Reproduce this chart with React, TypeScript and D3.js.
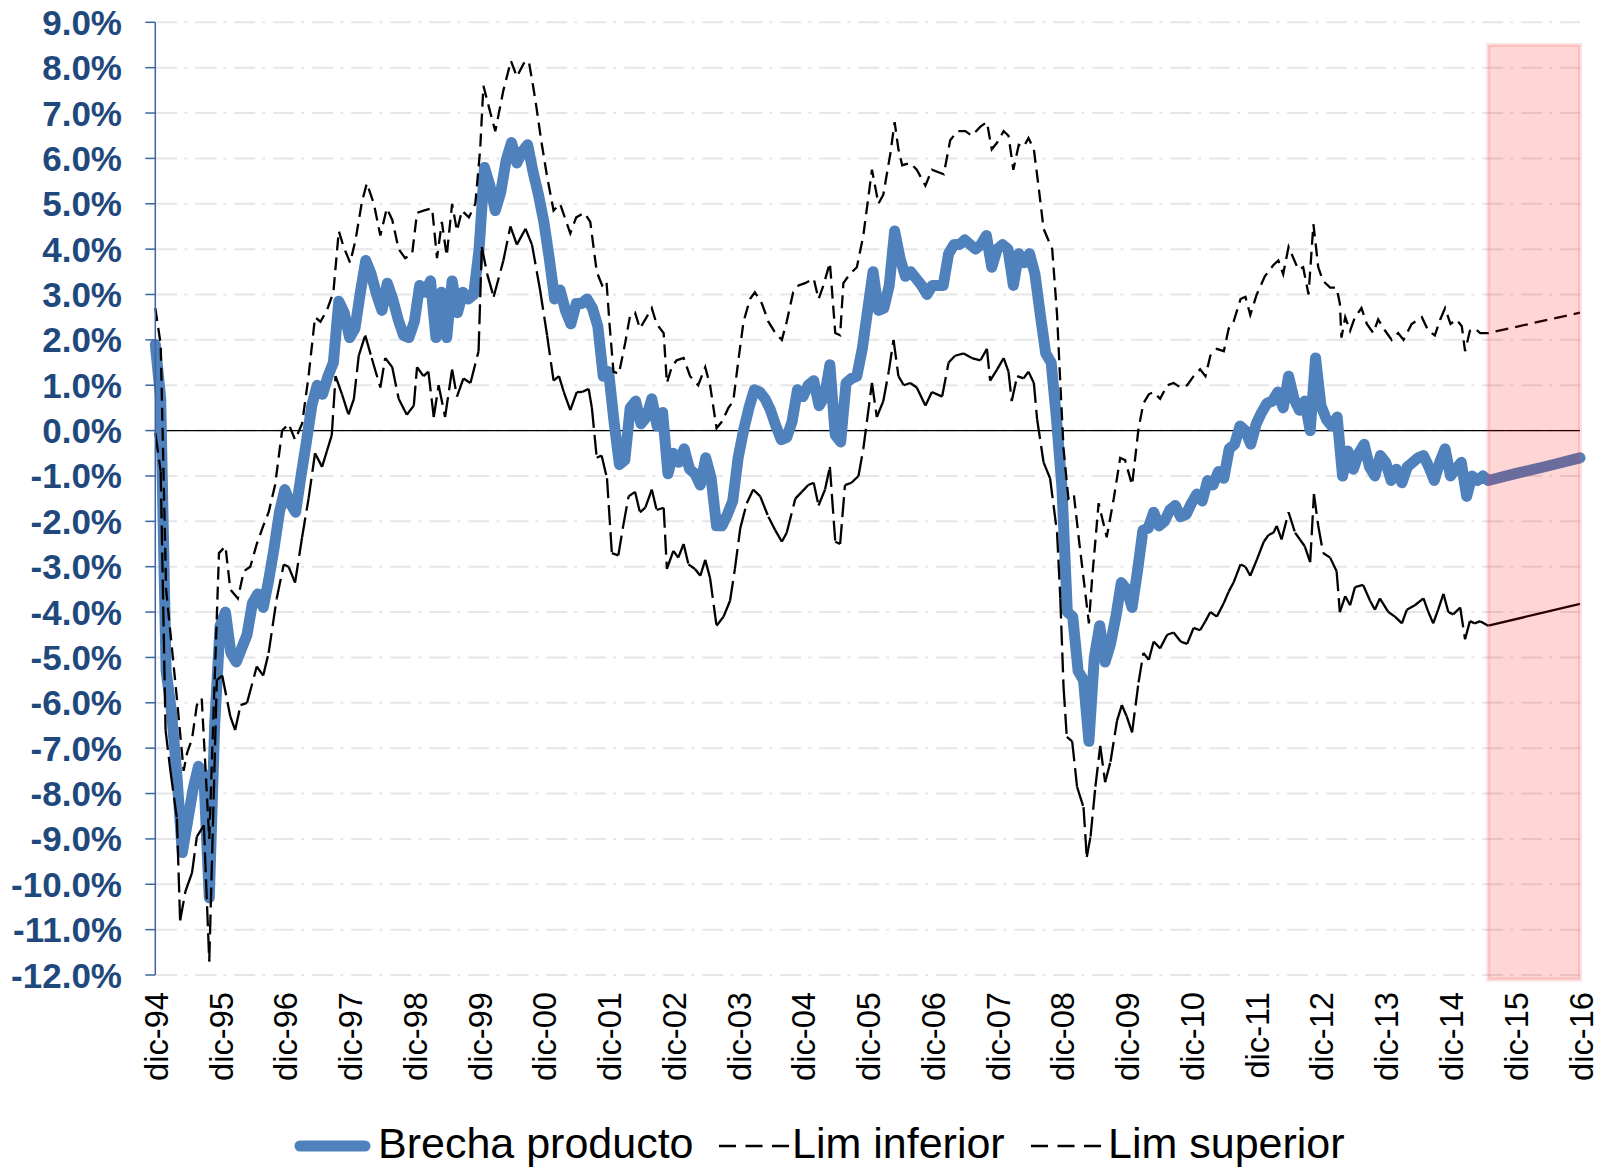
import React from 'react';
import * as d3 from 'd3';

// ---------- DATA ----------
const xLabels = ['dic-94','dic-95','dic-96','dic-97','dic-98','dic-99','dic-00','dic-01','dic-02','dic-03','dic-04','dic-05','dic-06','dic-07','dic-08','dic-09','dic-10','dic-11','dic-12','dic-13','dic-14','dic-15','dic-16'];
const yTickValues = [9,8,7,6,5,4,3,2,1,0,-1,-2,-3,-4,-5,-6,-7,-8,-9,-10,-11,-12];

// Brecha producto, monthly from dic-94 (index 0) to jul-15 (index 247), %
const brecha = [
  1.9,0.7,-5.3,-6.2,-7.6,-9.3,-8.6,-7.9,-7.4,-7.6,-10.3,-6.5,
  -4.3,-4.0,-4.9,-5.1,-4.8,-4.5,-3.8,-3.6,-3.9,-3.3,-2.6,-1.8,
  -1.3,-1.6,-1.8,-1.0,-0.25,0.55,1.0,0.8,1.2,1.5,2.85,2.6,
  2.05,2.25,3.05,3.75,3.45,3.0,2.65,3.25,2.9,2.45,2.1,2.05,
  2.4,3.2,3.05,3.3,2.05,3.05,2.05,3.3,2.6,3.05,2.9,3.0,
  4.0,5.8,5.4,4.85,5.25,5.95,6.35,5.9,6.15,6.3,5.7,5.2,
  4.6,3.8,2.9,3.1,2.65,2.35,2.8,2.8,2.9,2.7,2.3,1.2,
  1.3,0.2,-0.75,-0.65,0.5,0.65,0.15,0.3,0.7,0.1,0.4,-0.95,
  -0.5,-0.7,-0.4,-0.85,-0.95,-1.2,-0.6,-1.05,-2.1,-2.1,-1.85,-1.55,
  -0.6,0.0,0.5,0.9,0.85,0.7,0.45,0.1,-0.2,-0.15,0.2,0.9,
  0.75,1.0,1.1,0.55,0.75,1.45,-0.1,-0.25,1.05,1.15,1.2,1.8,
  2.65,3.5,2.65,2.7,3.2,4.4,3.8,3.4,3.5,3.35,3.2,3.0,
  3.2,3.2,3.2,3.9,4.1,4.1,4.2,4.1,4.0,4.1,4.3,3.6,
  4.0,4.1,4.0,3.2,3.9,3.7,3.9,3.45,2.55,1.7,1.5,0.25,
  -1.25,-4.0,-4.1,-5.3,-5.5,-6.85,-5.0,-4.3,-5.1,-4.7,-4.1,-3.35,
  -3.5,-3.9,-3.1,-2.2,-2.15,-1.8,-2.1,-2.0,-1.75,-1.65,-1.9,-1.85,
  -1.6,-1.4,-1.55,-1.1,-1.2,-0.9,-1.05,-0.4,-0.3,0.1,0.0,-0.3,
  0.15,0.4,0.6,0.65,0.85,0.5,1.2,0.7,0.45,0.65,0.0,1.6,
  0.55,0.25,0.1,0.3,-1.0,-0.45,-0.85,-0.5,-0.3,-0.8,-1.0,-0.55,
  -0.7,-1.1,-0.85,-1.15,-0.8,-0.7,-0.6,-0.55,-0.8,-1.1,-0.7,-0.4,
  -1.0,-0.85,-0.7,-1.45,-1.0,-1.1,-1.0,-1.1
];
// Forecast [month index, %]
const brechaForecast = [[247,-1.1],[252,-0.95],[258,-0.78],[264,-0.6]];

// Lim superior [month index, %]
const limSuperior = [
  [0,2.7],[1,1.9],[2,-3.5],[3.5,-5.3],[4,-5.9],[5.25,-7.5],[5.9,-7.1],[6.8,-6.8],[7.7,-6.05],[8.6,-5.9],[10,-9.0],
  [11.8,-2.7],[13,-2.55],[13.9,-3.5],[15.3,-3.7],[16.4,-3.1],[17.6,-3.0],[18.8,-2.5],[20,-2.1],[21,-1.8],[22.2,-1.2],
  [23.5,0],[24.7,0.15],[25.9,-0.2],[27.2,0.15],[28.4,1.2],[29.6,2.5],[30.6,2.4],[31.8,2.65],[33,3.05],[34,4.4],
  [34.9,4.05],[36.1,3.7],[37.1,4.2],[38.3,5.05],[39.2,5.45],[40.5,5.0],[41.7,4.3],[42.9,4.9],[43.9,4.65],[45.1,4.0],
  [46.3,3.8],[47.6,3.9],[48.5,4.8],[49.7,4.85],[51.3,4.9],[52.2,3.8],[53.1,4.6],[54,3.85],[55,5.0],[55.9,4.4],
  [56.8,4.85],[58.1,4.7],[59.3,5.0],[60.2,6.2],[60.8,7.6],[62.1,7.0],[63,6.6],[64.5,7.5],[65.9,8.15],[67,7.8],
  [68.3,8.1],[69.2,8.15],[70,7.6],[70.7,7.07],[71.5,6.4],[72.6,5.6],[73.8,4.85],[75,5.0],[76.9,4.35],[78,4.7],
  [79.5,4.8],[80.6,4.6],[81.8,3.5],[82.8,3.2],[83.6,3.3],[84.2,2.3],[84.9,1.3],[85.9,1.25],[87.1,1.95],[88,2.55],
  [88.9,2.6],[89.8,2.25],[90.8,2.45],[92,2.7],[92.9,2.35],[94.2,2.15],[94.8,1.05],[95.7,1.4],[96.6,1.55],[97.9,1.6],
  [99.1,1.2],[100.6,1.0],[101.9,1.4],[102.8,1.0],[104,0.05],[105,0.2],[106.2,0.5],[107.1,0.65],[108.1,1.6],[109,2.4],
  [110.2,2.9],[111.1,3.05],[112.4,2.8],[113.6,2.4],[114.9,2.15],[116.1,2.0],[117,2.4],[118.2,3.05],[119.2,3.2],[120.4,3.25],
  [122,3.35],[122.9,2.9],[123.8,3.2],[125,3.7],[126,2.15],[126.9,2.1],[127.5,3.25],[128.7,3.45],[130,3.6],[131.2,4.3],
  [132.8,5.75],[134,5.0],[134.9,5.2],[136.2,6.1],[137,6.8],[137.7,6.2],[138.4,5.85],[139.9,5.9],[141.1,5.75],[142.7,5.4],
  [143.9,5.75],[146.1,5.65],[147.3,6.4],[148.6,6.6],[150.1,6.6],[151.3,6.5],[152.9,6.7],[154.1,6.8],[155,6.2],[156,6.35],
  [157.2,6.6],[158.1,6.5],[159,5.75],[160,6.3],[160.9,6.25],[161.8,6.45],[162.8,6.2],[163.7,5.35],[164.6,4.45],[166.2,4.0],
  [167.1,2.55],[167.7,1.05],[168.3,-0.4],[169.2,-1.5],[170.2,-1.4],[171.1,-2.35],[172,-3.25],[173,-4.25],[173.6,-3.25],[174.8,-1.6],
  [176.3,-2.35],[177.6,-1.5],[178.8,-0.6],[179.7,-0.65],[181,-1.2],[182.2,0.05],[183.1,0.6],[184.1,0.8],[185,0.85],[186.2,0.7],
  [187.5,1.0],[188.7,1.05],[190,0.95],[191.2,1.0],[192.4,1.2],[193.6,1.35],[194.6,1.2],[195.5,1.65],[196.7,1.8],[198,1.75],
  [198.9,2.25],[199.8,2.4],[201.1,2.9],[202,2.95],[202.9,2.55],[204.1,3.0],[205.6,3.4],[207.2,3.65],[208.1,3.75],[209,3.45],
  [210,4.05],[210.9,3.8],[211.8,3.55],[212.7,3.6],[213.7,3.0],[214.6,4.55],[215.5,3.6],[216.4,3.3],[217.7,3.15],[218.9,3.15],
  [219.5,2.8],[219.8,2.05],[220.5,2.5],[221.4,2.2],[222.3,2.5],[223.5,2.7],[224.5,2.35],[225.7,2.15],[226.6,2.45],[227.9,2.2],
  [229.1,2.0],[230.3,2.15],[231.3,2.0],[232.8,2.35],[234.7,2.5],[235.9,2.2],[237.1,2.1],[238.1,2.45],[239,2.7],[240,2.35],
  [241.1,2.45],[242.1,2.3],[242.7,1.75],[243.6,2.2],[244.5,2.25],[245.5,2.15],[247,2.15]
];
const limSuperiorForecast = [[247,2.15],[264,2.6]];

// Lim inferior [month index, %]
const limInferior = [
  [0,-0.05],[1,-0.9],[1.9,-6.6],[2.8,-7.5],[4,-8.55],[4.6,-10.8],[5.6,-10.15],[6.8,-9.75],[7.7,-8.95],[9,-8.7],[10,-11.7],
  [11.4,-5.5],[12.4,-5.4],[13.9,-6.3],[14.8,-6.6],[15.8,-6.05],[17,-6.0],[18.8,-5.2],[20,-5.4],[21,-4.9],[22.5,-3.7],
  [23.8,-2.95],[24.7,-3.0],[25.9,-3.35],[27.2,-2.35],[28.4,-1.5],[29.6,-0.5],[30.9,-0.8],[31.8,-0.45],[32.7,-0.1],[33.4,1.2],
  [34.6,0.8],[35.8,0.35],[36.8,0.7],[37.7,1.65],[38.9,2.1],[40.1,1.6],[41.7,0.95],[42.6,1.6],[43.9,1.4],[45.1,0.7],
  [46.6,0.35],[47.9,0.55],[48.5,1.4],[49.7,1.2],[50.6,1.3],[51.6,0.3],[52.5,1.0],[53.7,0.3],[55,1.35],[55.9,0.75],
  [57.1,1.15],[58.4,1.05],[59.9,1.75],[60.5,4.05],[61.5,3.45],[62.7,2.95],[64.5,3.75],[65.8,4.5],[67,4.1],[68.6,4.45],
  [69.8,4.1],[71.3,3.1],[72.6,2.1],[73.8,1.1],[74.8,1.2],[75.7,0.85],[76.9,0.45],[78.1,0.85],[79.1,0.85],[80.3,0.92],
  [80.9,0.5],[81.8,-0.6],[82.7,-0.55],[83.7,-1.05],[84.6,-2.7],[85.8,-2.75],[86.7,-2.1],[87.7,-1.45],[88.9,-1.35],[89.8,-1.8],
  [90.8,-1.7],[92,-1.3],[92.9,-1.75],[94.2,-1.7],[94.8,-3.05],[96,-2.65],[96.9,-2.8],[97.9,-2.5],[98.8,-2.95],[100,-3.05],
  [101,-3.2],[101.9,-2.85],[102.8,-3.25],[104,-4.3],[105.3,-4.1],[106.5,-3.75],[107.4,-3.05],[108.4,-2.15],[109.6,-1.6],[110.8,-1.3],
  [112.1,-1.45],[113.6,-1.9],[114.9,-2.2],[116.1,-2.45],[117,-2.25],[118.6,-1.5],[119.8,-1.35],[121,-1.2],[122,-1.15],[122.9,-1.65],
  [124.1,-1.3],[125,-0.8],[126,-2.45],[126.9,-2.5],[127.8,-1.2],[129,-1.15],[130.3,-1.0],[131.2,-0.4],[132.8,1.05],[133.7,0.3],
  [134.9,0.65],[135.9,1.3],[136.8,2.0],[137.7,1.2],[138.7,1.0],[139.9,1.05],[141.1,0.95],[142.7,0.55],[143.9,0.85],[145.8,0.75],
  [147,1.5],[148.2,1.65],[149.8,1.7],[151.3,1.6],[152.9,1.55],[154.1,1.8],[154.7,1.1],[156,1.35],[157.2,1.6],[158.1,1.3],
  [158.7,0.65],[159.7,1.2],[160.9,1.15],[161.8,1.3],[162.8,1.05],[163.4,0.25],[164.6,-0.7],[165.8,-1.05],[167.1,-2.25],[167.7,-3.7],
  [168.3,-5.65],[168.9,-6.75],[169.9,-6.85],[170.8,-7.85],[172,-8.3],[172.6,-9.4],[173.3,-8.95],[174.2,-7.85],[175.1,-6.95],[176,-7.75],
  [177,-7.3],[178.2,-6.4],[179.1,-6.05],[180,-6.3],[181,-6.65],[182.2,-5.55],[183.1,-4.9],[184.1,-5.05],[185,-4.65],[186.2,-4.8],
  [187.5,-4.5],[188.7,-4.45],[190,-4.65],[191.2,-4.7],[192.4,-4.35],[193.6,-4.4],[194.6,-4.2],[195.5,-4.0],[196.7,-4.1],[198,-3.8],
  [198.9,-3.55],[199.8,-3.35],[201.1,-2.95],[202,-3.0],[202.9,-3.2],[204.1,-2.85],[205.4,-2.45],[206.3,-2.3],[207.2,-2.25],[207.8,-2.1],
  [208.7,-2.4],[210,-1.8],[211.2,-2.25],[212.1,-2.4],[213,-2.55],[214,-2.9],[214.7,-1.4],[215.5,-2.1],[216.4,-2.7],[217.7,-2.8],
  [218.9,-3.1],[219.5,-4.0],[220.5,-3.65],[221.4,-3.85],[222.3,-3.45],[223.8,-3.4],[225.1,-3.75],[226,-3.95],[226.9,-3.7],[228.5,-4.0],
  [229.7,-4.1],[231,-4.25],[231.9,-3.95],[233.4,-3.85],[235,-3.7],[235.9,-4.0],[236.8,-4.25],[237.7,-3.95],[238.7,-3.6],[239.6,-4.0],
  [240.5,-4.05],[241.8,-3.9],[242.7,-4.6],[243.6,-4.2],[244.5,-4.25],[245.5,-4.2],[247,-4.3]
];
const limInferiorForecast = [[247,-4.3],[264,-3.82]];

// Shaded forecast window [month index], [% top, % bottom]
const forecastMonths = [247.0, 264.0];
const forecastRange = [8.5, -12.1];

const legendLabels = ['Brecha producto', 'Lim inferior', 'Lim superior'];

// ---------- CHART ----------
const FONT = "'Liberation Sans', Arial, Helvetica, sans-serif";

export default function App() {
  const x = d3.scaleLinear().domain([0, 264]).range([155.3, 1580]);
  const y = d3.scaleLinear().domain([9, -12]).range([22.3, 975]);
  const line = d3.line<number[]>().x(d => x(d[0])).y(d => y(d[1]));

  const blueData = [...brecha.map((v, i) => [i, v]), ...brechaForecast.slice(1)];
  const supData = [...limSuperior, ...limSuperiorForecast.slice(1)];

  const infSegments: { a: number[]; b: number[]; solid: boolean }[] = [];
  for (let i = 0; i < limInferior.length - 1; i++) {
    infSegments.push({ a: limInferior[i], b: limInferior[i + 1], solid: false });
  }
  for (let i = 0; i < limInferiorForecast.length - 1; i++) {
    infSegments.push({ a: limInferiorForecast[i], b: limInferiorForecast[i + 1], solid: true });
  }

  const x0 = x(0);
  const x1 = x(264);

  return (
    <svg width={1606} height={1168} style={{ position: 'absolute', left: 0, top: 0, background: '#fff' }}>
      <rect x={0} y={0} width={1606} height={1168} fill="#fff" />
      {/* gridlines */}
      {yTickValues.map(v => (
        <line key={'g' + v} x1={x0 + 1} x2={x1} y1={y(v)} y2={y(v)} stroke="#E6E6E6" strokeWidth={2} strokeDasharray="21 7 3 8" />
      ))}
      {/* zero line */}
      <line x1={x0} x2={x1} y1={y(0)} y2={y(0)} stroke="#000" strokeWidth={1.3} />
      {/* Brecha producto */}
      <path d={line(blueData) || ''} fill="none" stroke="#4F81BD" strokeWidth={11} strokeLinejoin="round" strokeLinecap="round" />
      {/* Lim superior */}
      <path d={line(supData) || ''} fill="none" stroke="#000" strokeWidth={2.3} strokeDasharray="13 7" />
      {/* Lim inferior */}
      {infSegments.map((s, i) => (
        <line key={'inf' + i} x1={x(s.a[0])} y1={y(s.a[1])} x2={x(s.b[0])} y2={y(s.b[1])}
          stroke="#000" strokeWidth={2.3} strokeDasharray={s.solid ? undefined : '20 7'} strokeLinecap="butt" />
      ))}
      {/* forecast window */}
      <rect x={x(forecastMonths[0])} y={y(forecastRange[0])}
        width={x(forecastMonths[1]) - x(forecastMonths[0])} height={y(forecastRange[1]) - y(forecastRange[0])}
        fill="rgba(255,0,0,0.16)" stroke="rgba(235,60,60,0.16)" strokeWidth={4} />
      {/* y axis */}
      <line x1={x0} x2={x0} y1={y(9)} y2={y(-12)} stroke="#3F64A0" strokeWidth={1.5} />
      {yTickValues.map(v => (
        <g key={'t' + v}>
          <line x1={x0 - 10} x2={x0} y1={y(v)} y2={y(v)} stroke="#3F64A0" strokeWidth={1.5} />
          <text x={122} y={y(v) + 12.5} textAnchor="end" fontFamily={FONT} fontWeight="bold" fontSize={35} fill="#1F497D">
            {v.toFixed(1) + '%'}
          </text>
        </g>
      ))}
      {/* x labels */}
      {xLabels.map((lab, i) => (
        <text key={lab} transform={`translate(${x(i * 12) + 12.5},992) rotate(-90)`} textAnchor="end"
          fontFamily={FONT} fontSize={32.7} fill="#000">{lab}</text>
      ))}
      {/* legend */}
      <line x1={300} x2={365} y1={1146} y2={1146} stroke="#4F81BD" strokeWidth={11} strokeLinecap="round" />
      <text x={378} y={1158} fontFamily={FONT} fontSize={43} fill="#000">{legendLabels[0]}</text>
      <line x1={719} x2={789} y1={1146} y2={1146} stroke="#000" strokeWidth={2.5} strokeDasharray="17 9.5" />
      <text x={792} y={1158} fontFamily={FONT} fontSize={43} fill="#000">{legendLabels[1]}</text>
      <line x1={1031} x2={1101} y1={1146} y2={1146} stroke="#000" strokeWidth={2.5} strokeDasharray="17 9.5" />
      <text x={1108} y={1158} fontFamily={FONT} fontSize={43} fill="#000">{legendLabels[2]}</text>
    </svg>
  );
}
